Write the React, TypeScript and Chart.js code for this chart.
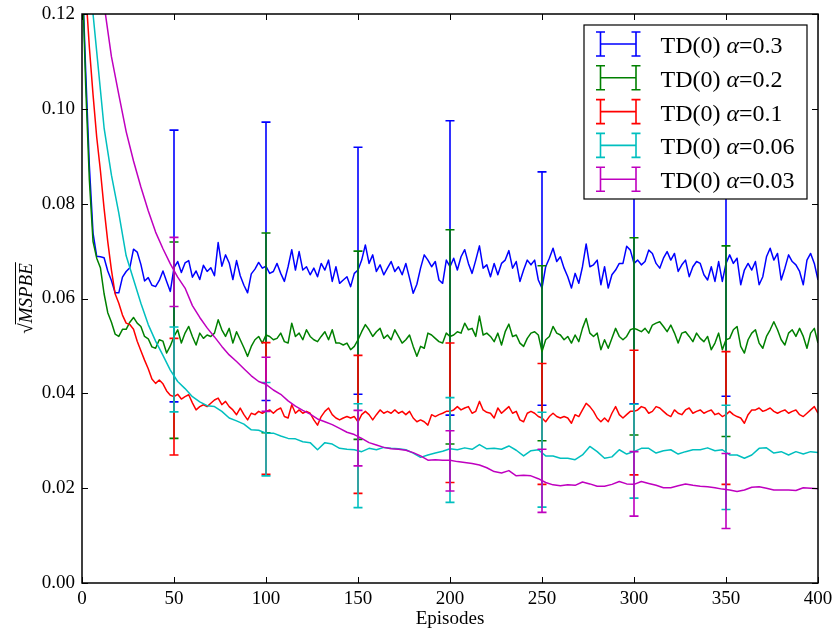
import React, { useEffect, useRef } from "react";
import { Chart, registerables } from "chart.js";

Chart.register(...registerables);

const FONT = '"Liberation Serif", "Times New Roman", serif';

// ---- axes ----
const episodesFine = Array.from({ length: 201 }, (_, i) => i * 2);
const episodesCoarse = Array.from({ length: 101 }, (_, i) => i * 4);
const errorEpisodes = [50, 100, 150, 200, 250, 300, 350];
const xTickValues = [0, 50, 100, 150, 200, 250, 300, 350, 400];
const xTickLabels = ["0", "50", "100", "150", "200", "250", "300", "350", "400"];
const yTickValues = [0, 0.02, 0.04, 0.06, 0.08, 0.1, 0.12];
const yTickLabels = ["0.00", "0.02", "0.04", "0.06", "0.08", "0.10", "0.12"];
const xAxisTitle = "Episodes";
const yAxisTitle = "MSPBE";
const alphaValues = ["0.3", "0.2", "0.1", "0.06", "0.03"];
const seriesLabels = alphaValues.map((a) => `TD(0) α=${a}`);

// ---- series (every 2 episodes) ----
const blueValues = [
  0.130, 0.108, 0.088, 0.0738, 0.0689, 0.0688, 0.0686, 0.0658, 0.0638, 0.0612,
  0.0612, 0.0645, 0.0657, 0.0665, 0.0704, 0.0698, 0.0672, 0.0637, 0.0644, 0.0628,
  0.0625, 0.0638, 0.0658, 0.0636, 0.0615, 0.0665, 0.0678, 0.0655, 0.0675, 0.0680,
  0.0645, 0.0658, 0.0640, 0.0670, 0.0657, 0.0665, 0.0648, 0.0718, 0.0668, 0.0692,
  0.0675, 0.0640, 0.0680, 0.0648, 0.0628, 0.0612, 0.0652, 0.0662, 0.0676, 0.0664,
  0.0668, 0.0653, 0.0657, 0.0674, 0.0653, 0.0636, 0.0667, 0.0703, 0.0660, 0.0699,
  0.0660, 0.0667, 0.0650, 0.0664, 0.0646, 0.0674, 0.0660, 0.0681, 0.0636, 0.0667,
  0.0632, 0.0639, 0.0646, 0.0625, 0.0653, 0.0660, 0.0681, 0.0713, 0.0674, 0.0692,
  0.0657, 0.0671, 0.0650, 0.0664, 0.0678, 0.0657, 0.0667, 0.0650, 0.0674, 0.0643,
  0.0611, 0.0630, 0.0664, 0.0692, 0.0681, 0.0667, 0.0678, 0.0639, 0.0632, 0.0681,
  0.0667, 0.0685, 0.0660, 0.0688, 0.0703, 0.0674, 0.0653, 0.0681, 0.0711, 0.0664,
  0.0671, 0.0646, 0.0674, 0.0650, 0.0674, 0.0681, 0.0701, 0.0664, 0.0678, 0.0636,
  0.0660, 0.0681, 0.0671, 0.0681, 0.0639, 0.0622, 0.0667, 0.0685, 0.0706, 0.0678,
  0.0688, 0.0664, 0.0646, 0.0622, 0.0653, 0.0632, 0.0667, 0.0715, 0.0667, 0.0671,
  0.0681, 0.0629, 0.0667, 0.0622, 0.0650, 0.0660, 0.0674, 0.0674, 0.0710, 0.0702,
  0.0674, 0.0681, 0.0671, 0.0678, 0.0702, 0.0695, 0.0674, 0.0664, 0.0685, 0.0699,
  0.0681, 0.0695, 0.0657, 0.0671, 0.0681, 0.0646, 0.0667, 0.0678, 0.0674, 0.0650,
  0.0639, 0.0667, 0.0636, 0.0678, 0.0636, 0.0674, 0.0692, 0.0674, 0.0685, 0.0629,
  0.0660, 0.0674, 0.0660, 0.0678, 0.0629, 0.0646, 0.0688, 0.0706, 0.0681, 0.0695,
  0.0639, 0.0664, 0.0692, 0.0678, 0.0671, 0.0657, 0.0629, 0.0681, 0.0695, 0.0674,
  0.0639,
];

const greenValues = [
  0.130, 0.105, 0.085, 0.072, 0.0685, 0.0665, 0.061, 0.057, 0.055, 0.0525,
  0.052, 0.0535, 0.0535, 0.055, 0.056, 0.0548, 0.0541, 0.052, 0.0515, 0.0498,
  0.0495, 0.0513, 0.051, 0.0485, 0.050, 0.052, 0.0534, 0.0506, 0.0527, 0.0541,
  0.052, 0.0502, 0.0527, 0.0516, 0.0523, 0.052, 0.0527, 0.0555, 0.0534, 0.052,
  0.0537, 0.0506, 0.053, 0.0513, 0.0496, 0.0478, 0.0499, 0.0513, 0.052, 0.0506,
  0.0523, 0.052, 0.0513, 0.0516, 0.0527, 0.0509, 0.0506, 0.0548, 0.052, 0.0527,
  0.0513, 0.0534, 0.052, 0.0513, 0.0509, 0.052, 0.053, 0.0513, 0.0534, 0.0506,
  0.0506, 0.0502, 0.0506, 0.0492, 0.0499, 0.0513, 0.053, 0.0545, 0.0534, 0.052,
  0.053, 0.0537, 0.0516, 0.0523, 0.0513, 0.0534, 0.052, 0.0506, 0.0513, 0.0523,
  0.0499, 0.0478, 0.0499, 0.0495, 0.0527, 0.0523, 0.0516, 0.0509, 0.0506, 0.0527,
  0.052, 0.0523, 0.053, 0.0527, 0.0548, 0.0534, 0.0537, 0.052, 0.0563, 0.0523,
  0.0527, 0.052, 0.0509, 0.0527, 0.0502, 0.053, 0.0546, 0.052, 0.0523, 0.0506,
  0.0499, 0.0516, 0.0527, 0.053, 0.0523, 0.0488, 0.0513, 0.052, 0.0541, 0.0527,
  0.0523, 0.0513, 0.052, 0.0506, 0.0523, 0.0509, 0.0537, 0.0558, 0.0527, 0.052,
  0.0527, 0.0492, 0.0513, 0.0495, 0.0516, 0.0537, 0.052, 0.0513, 0.052, 0.0534,
  0.0537, 0.0534, 0.053, 0.0537, 0.0527, 0.0544, 0.0548, 0.0551, 0.0541, 0.053,
  0.0544, 0.0527, 0.0506, 0.0527, 0.053, 0.052, 0.0509, 0.0527, 0.0516, 0.0509,
  0.052, 0.0492, 0.0506, 0.0527, 0.0492, 0.0513, 0.0516, 0.0534, 0.0541, 0.0499,
  0.0485, 0.0513, 0.0527, 0.0534, 0.0506, 0.0495, 0.052, 0.0534, 0.0551, 0.0534,
  0.0513, 0.0502, 0.0527, 0.0534, 0.052, 0.0537, 0.052, 0.0495, 0.0527, 0.0537,
  0.0506,
];

const redValues = [
  0.130, 0.125, 0.113, 0.103, 0.094, 0.087, 0.079, 0.072, 0.066, 0.061,
  0.059, 0.0565, 0.0548, 0.0545, 0.0535, 0.051, 0.049, 0.047, 0.0452, 0.043,
  0.0421, 0.0428, 0.042, 0.0405, 0.0396, 0.0393, 0.0398, 0.0388, 0.0393, 0.0397,
  0.038, 0.0365, 0.0372, 0.0376, 0.0372, 0.0379, 0.0386, 0.039, 0.0376, 0.0383,
  0.0372, 0.0365, 0.0355, 0.0369, 0.0355, 0.0344, 0.0358, 0.0355, 0.0362, 0.0358,
  0.0362, 0.0365, 0.0358, 0.0365, 0.0369, 0.0351, 0.0348, 0.0376, 0.0358, 0.0365,
  0.0358, 0.0362, 0.0358, 0.0344, 0.0333, 0.0351, 0.0362, 0.0369, 0.0355, 0.0348,
  0.0344, 0.0348, 0.0351, 0.0348, 0.0351, 0.034, 0.0355, 0.0362, 0.0355, 0.0344,
  0.0355, 0.0365, 0.0358, 0.0362, 0.0358, 0.0365, 0.0358, 0.0362, 0.0355, 0.0362,
  0.0348, 0.034, 0.0344, 0.034, 0.0333, 0.0355, 0.0351, 0.0355, 0.0358, 0.0362,
  0.0362, 0.0365, 0.0372, 0.0365, 0.0369, 0.0372, 0.0358, 0.0362, 0.0383, 0.0365,
  0.036, 0.0358, 0.0348, 0.0369, 0.0358, 0.0365, 0.0372, 0.0358, 0.0362, 0.0344,
  0.034, 0.0358, 0.0362, 0.0358, 0.0351, 0.0348, 0.034, 0.0351, 0.0358, 0.0351,
  0.0348, 0.0351, 0.0348, 0.0337, 0.0355, 0.0351, 0.0365, 0.0379, 0.0372, 0.0362,
  0.0348, 0.034, 0.0348, 0.034, 0.0358, 0.0372, 0.0355, 0.0348, 0.0355, 0.0362,
  0.0362, 0.0365, 0.0372, 0.0369, 0.0358, 0.0362, 0.0372, 0.0369, 0.0362, 0.0355,
  0.0351, 0.0365, 0.0358, 0.0355, 0.0365, 0.0369, 0.0358, 0.0362, 0.0365, 0.0358,
  0.0362, 0.0365, 0.0355, 0.0358, 0.0351, 0.0355, 0.0362, 0.0355, 0.0351, 0.0348,
  0.0337, 0.0355, 0.0365, 0.0365, 0.0369, 0.0362, 0.0365, 0.0369, 0.0362, 0.0358,
  0.0362, 0.0365, 0.0358, 0.0362, 0.0365, 0.0355, 0.0351, 0.0358, 0.0365, 0.0372,
  0.0358,
];

// ---- series (every 4 episodes) ----
const cyanValues = [
  0.135, 0.128, 0.112, 0.096, 0.086, 0.078, 0.069, 0.064, 0.059, 0.0545,
  0.051, 0.048, 0.0449, 0.0425, 0.041, 0.0393, 0.0382, 0.0374, 0.0372, 0.0362,
  0.0348, 0.0342, 0.0335, 0.0323, 0.0322, 0.0316, 0.0316, 0.031, 0.0305, 0.0304,
  0.0298, 0.0296, 0.0281, 0.0296, 0.0293, 0.0284, 0.0282, 0.0281, 0.0277, 0.0284,
  0.0281, 0.0286, 0.0284, 0.0283, 0.0281, 0.0274, 0.0265, 0.027, 0.0274, 0.0278,
  0.0283, 0.0281, 0.0285, 0.0282, 0.0292, 0.0283, 0.0284, 0.0282, 0.0289, 0.028,
  0.0268, 0.0279, 0.0281, 0.0268, 0.0268, 0.0263, 0.0263, 0.026, 0.027, 0.0288,
  0.0277, 0.0263, 0.0266, 0.0281, 0.0272, 0.0277, 0.0284, 0.0284, 0.0274, 0.0279,
  0.0281, 0.0272, 0.0277, 0.0281, 0.0281, 0.0285, 0.0279, 0.0281, 0.027, 0.027,
  0.0263, 0.027, 0.0284, 0.0285, 0.0274, 0.0277, 0.027, 0.0277, 0.0272, 0.0277,
  0.0275,
];

const magentaValues = [
  0.16, 0.15, 0.135, 0.122, 0.111, 0.103, 0.0952, 0.089, 0.0835, 0.0785,
  0.074, 0.0705, 0.0673, 0.0645, 0.0622, 0.0585, 0.056, 0.0538, 0.0519, 0.0499,
  0.0481, 0.0467, 0.0452, 0.0437, 0.0425, 0.0419, 0.0407, 0.0398, 0.0384, 0.0373,
  0.0364, 0.0356, 0.0346, 0.034, 0.0334, 0.0326, 0.0318, 0.0313, 0.0305, 0.0296,
  0.0291, 0.0286, 0.0283, 0.0282, 0.028, 0.0275, 0.0268, 0.0259, 0.026, 0.0259,
  0.0259, 0.0256, 0.0254, 0.0252, 0.0249, 0.0243, 0.0235, 0.0232, 0.0237, 0.0226,
  0.0227, 0.0226, 0.022, 0.0212, 0.0207, 0.0205, 0.0207, 0.0206, 0.0213, 0.0209,
  0.0204, 0.0204, 0.0208, 0.0214, 0.0209, 0.0208, 0.0214, 0.021, 0.0206, 0.0201,
  0.0201, 0.0205, 0.0209, 0.0206, 0.0204, 0.0203, 0.0201, 0.0198, 0.0196, 0.0193,
  0.0196, 0.0202, 0.0203, 0.02, 0.0196, 0.0196, 0.0196, 0.0195, 0.0201, 0.02,
  0.0199,
];

// ---- error bars at errorEpisodes ----
const blueErrLow = [0.0382, 0.0385, 0.0398, 0.0354, 0.0375, 0.0378, 0.0394];
const blueErrHigh = [0.0955, 0.0972, 0.0919, 0.0975, 0.0867, 0.096, 0.094];
const greenErrLow = [0.0305, 0.0317, 0.0303, 0.0293, 0.03, 0.0312, 0.0309];
const greenErrHigh = [0.0719, 0.0738, 0.07, 0.0745, 0.0669, 0.0728, 0.0711];
const redErrLow = [0.027, 0.0229, 0.0189, 0.0212, 0.0208, 0.0228, 0.0208];
const redErrHigh = [0.0516, 0.0507, 0.048, 0.0506, 0.0463, 0.0491, 0.0488];
const cyanErrLow = [0.0361, 0.0226, 0.0159, 0.017, 0.016, 0.0179, 0.0155];
const cyanErrHigh = [0.054, 0.0423, 0.0378, 0.0391, 0.036, 0.0377, 0.0375];
const magentaErrLow = [0.0583, 0.0362, 0.0247, 0.0194, 0.0149, 0.0141, 0.0115];
const magentaErrHigh = [0.0729, 0.0476, 0.0364, 0.0321, 0.0282, 0.0277, 0.0273];

const colors = ["#0000ff", "#008000", "#ff0000", "#00bfbf", "#bf00bf"];

const seriesTable = [
  { x: episodesFine, y: blueValues, lo: blueErrLow, hi: blueErrHigh },
  { x: episodesFine, y: greenValues, lo: greenErrLow, hi: greenErrHigh },
  { x: episodesFine, y: redValues, lo: redErrLow, hi: redErrHigh },
  { x: episodesCoarse, y: cyanValues, lo: cyanErrLow, hi: cyanErrHigh },
  { x: episodesCoarse, y: magentaValues, lo: magentaErrLow, hi: magentaErrHigh },
];

const errorBarPlugin = {
  id: "errorBars",
  afterDatasetDraw(chart: any, args: any) {
    const s = seriesTable[args.index];
    if (!s) return;
    const { ctx, chartArea: a, scales } = chart;
    const xs = scales.x;
    const ys = scales.y;
    ctx.save();
    ctx.beginPath();
    ctx.rect(a.left, a.top, a.right - a.left, a.bottom - a.top);
    ctx.clip();
    ctx.strokeStyle = colors[args.index];
    ctx.lineWidth = 1.6;
    const cap = 4.5;
    errorEpisodes.forEach((ep, k) => {
      const px = xs.getPixelForValue(ep);
      const y1 = ys.getPixelForValue(s.lo[k]);
      const y2 = ys.getPixelForValue(s.hi[k]);
      ctx.beginPath();
      ctx.moveTo(px, y1);
      ctx.lineTo(px, y2);
      ctx.moveTo(px - cap, y1);
      ctx.lineTo(px + cap, y1);
      ctx.moveTo(px - cap, y2);
      ctx.lineTo(px + cap, y2);
      ctx.stroke();
    });
    ctx.restore();
  },
};

const framePlugin = {
  id: "frameTicks",
  afterDatasetsDraw(chart: any) {
    const { ctx, chartArea: a, scales } = chart;
    const xs = scales.x;
    const ys = scales.y;
    const tl = 6;
    ctx.save();
    ctx.strokeStyle = "#000";
    ctx.lineWidth = 1;
    ctx.beginPath();
    xTickValues.forEach((v) => {
      const px = Math.round(xs.getPixelForValue(v)) + 0.5;
      ctx.moveTo(px, a.bottom);
      ctx.lineTo(px, a.bottom - tl);
      ctx.moveTo(px, a.top);
      ctx.lineTo(px, a.top + tl);
    });
    yTickValues.forEach((v) => {
      const py = Math.round(ys.getPixelForValue(v)) + 0.5;
      ctx.moveTo(a.left, py);
      ctx.lineTo(a.left + tl, py);
      ctx.moveTo(a.right, py);
      ctx.lineTo(a.right - tl, py);
    });
    ctx.stroke();
    ctx.lineWidth = 1.5;
    ctx.strokeRect(a.left, a.top, a.right - a.left, a.bottom - a.top);
    ctx.restore();
  },
};

const decorPlugin = {
  id: "decor",
  afterDraw(chart: any) {
    const { ctx, chartArea: a } = chart;
    ctx.save();
    // y axis title: sqrt(MSPBE)
    const cy = (a.top + a.bottom) / 2;
    ctx.translate(32, cy);
    ctx.rotate(-Math.PI / 2);
    ctx.fillStyle = "#000";
    ctx.textBaseline = "alphabetic";
    ctx.font = `19px ${FONT}`;
    const sq = "√";
    const sqW = ctx.measureText(sq).width;
    ctx.font = `italic 19px ${FONT}`;
    const tW = ctx.measureText(yAxisTitle).width;
    const u0 = -(sqW + tW) / 2;
    ctx.font = `19px ${FONT}`;
    ctx.fillText(sq, u0, 0);
    ctx.font = `italic 19px ${FONT}`;
    ctx.fillText(yAxisTitle, u0 + sqW, 0);
    ctx.strokeStyle = "#000";
    ctx.lineWidth = 1;
    ctx.beginPath();
    ctx.moveTo(u0 + sqW - 1, -16.5);
    ctx.lineTo(u0 + sqW + tW + 1, -16.5);
    ctx.stroke();
    ctx.restore();

    // legend
    ctx.save();
    const bw = 223;
    const bh = 174;
    const bx = a.right - 11 - bw;
    const by = a.top + 11;
    ctx.fillStyle = "#fff";
    ctx.fillRect(bx, by, bw, bh);
    ctx.strokeStyle = "#000";
    ctx.lineWidth = 1.2;
    ctx.strokeRect(bx, by, bw, bh);
    seriesLabels.forEach((label, i) => {
      const ry = by + 19 + i * 33.8;
      const x1 = bx + 16.5;
      const x2 = bx + 52;
      ctx.strokeStyle = colors[i];
      ctx.lineWidth = 1.6;
      ctx.beginPath();
      ctx.moveTo(x1, ry);
      ctx.lineTo(x2, ry);
      [x1, x2].forEach((xx) => {
        ctx.moveTo(xx, ry - 12);
        ctx.lineTo(xx, ry + 12);
        ctx.moveTo(xx - 4.5, ry - 12);
        ctx.lineTo(xx + 4.5, ry - 12);
        ctx.moveTo(xx - 4.5, ry + 12);
        ctx.lineTo(xx + 4.5, ry + 12);
      });
      ctx.stroke();
      const parts = label.split("α");
      let tx = bx + 76.5;
      const ty = ry + 9;
      ctx.fillStyle = "#000";
      ctx.textBaseline = "alphabetic";
      ctx.font = `24px ${FONT}`;
      ctx.fillText(parts[0], tx, ty);
      tx += ctx.measureText(parts[0]).width;
      ctx.font = `italic 24px ${FONT}`;
      ctx.fillText("α", tx, ty);
      tx += ctx.measureText("α").width;
      ctx.font = `24px ${FONT}`;
      ctx.fillText(parts[1], tx, ty);
    });
    ctx.restore();
  },
};

export default function App() {
  const ref = useRef<HTMLCanvasElement>(null);

  useEffect(() => {
    if (!ref.current) return;
    const datasets = seriesTable.map((s, i) => ({
      label: seriesLabels[i],
      data: s.x.map((ep, k) => ({ x: ep, y: s.y[k] })),
      borderColor: colors[i],
      backgroundColor: colors[i],
      borderWidth: 1.5,
      borderJoinStyle: "round" as const,
      pointRadius: 0,
      tension: 0,
      fill: false,
      clip: 0,
      order: 5 - i,
    }));
    const tickFont = { family: FONT, size: 19 };
    const chart = new Chart(ref.current, {
      type: "line",
      data: { datasets },
      options: {
        responsive: false,
        devicePixelRatio: 1,
        animation: false,
        events: [],
        layout: { padding: { left: 0, right: 17, top: 14, bottom: 0 } },
        plugins: { legend: { display: false }, tooltip: { enabled: false } },
        scales: {
          x: {
            type: "linear",
            min: 0,
            max: 400,
            afterBuildTicks: (s: any) => {
              s.ticks = xTickValues.map((v) => ({ value: v }));
            },
            ticks: {
              callback: (_v: any, i: number) => xTickLabels[i],
              font: tickFont,
              color: "#000",
              padding: 5,
              maxRotation: 0,
              autoSkip: false,
            },
            grid: { display: false, drawTicks: false },
            border: { display: false },
            title: {
              display: true,
              text: xAxisTitle,
              font: tickFont,
              color: "#000",
              padding: { top: 0, bottom: 5 },
            },
            afterFit: (s: any) => {
              s.height = 52;
              s.paddingLeft = 0;
              s.paddingRight = 0;
            },
          },
          y: {
            type: "linear",
            min: 0,
            max: 0.12,
            afterBuildTicks: (s: any) => {
              s.ticks = yTickValues.map((v) => ({ value: v }));
            },
            ticks: {
              callback: (_v: any, i: number) => yTickLabels[i],
              font: tickFont,
              color: "#000",
              padding: 7,
              autoSkip: false,
            },
            grid: { display: false, drawTicks: false },
            border: { display: false },
            afterFit: (s: any) => {
              s.width = 82;
              s.paddingTop = 0;
              s.paddingBottom = 0;
            },
          },
        },
      },
      plugins: [errorBarPlugin, framePlugin, decorPlugin],
    } as any);
    return () => chart.destroy();
  }, []);

  return (
    <div
      style={{
        position: "absolute",
        left: 0,
        top: 0,
        width: 835,
        height: 635,
        background: "#fff",
      }}
    >
      <canvas
        ref={ref}
        width={835}
        height={635}
        style={{ display: "block", width: 835, height: 635 }}
      />
    </div>
  );
}
